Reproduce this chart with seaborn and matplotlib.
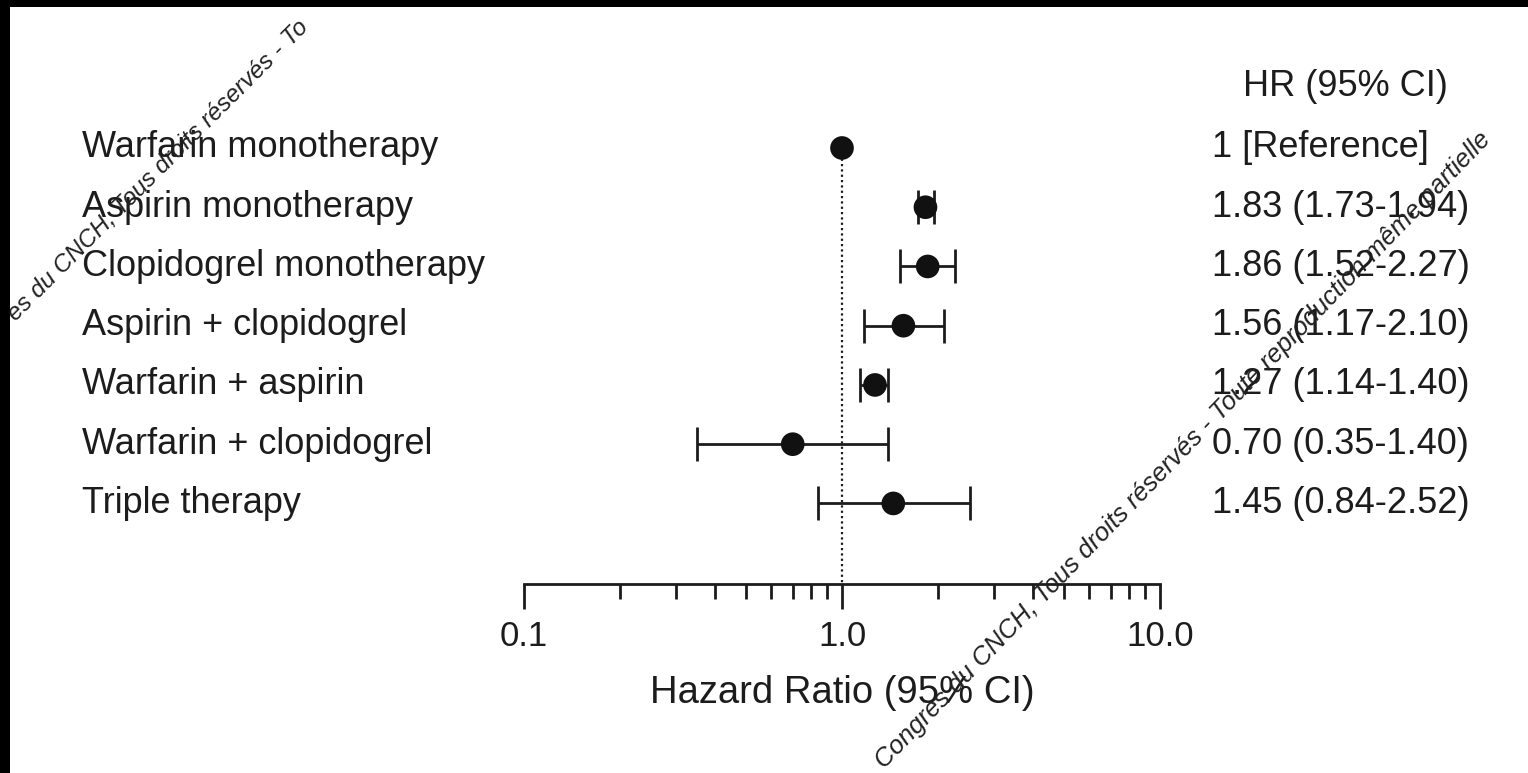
import matplotlib
matplotlib.use("Agg")
import matplotlib.pyplot as plt
import matplotlib.transforms as mtransforms
from matplotlib.patches import Rectangle
import seaborn as sns
import pandas as pd
import numpy as np

# ---- data ----
categories = ["Warfarin monotherapy", "Aspirin monotherapy", "Clopidogrel monotherapy",
              "Aspirin + clopidogrel", "Warfarin + aspirin", "Warfarin + clopidogrel",
              "Triple therapy"]
hr = [1.00, 1.83, 1.86, 1.56, 1.27, 0.70, 1.45]
ci_low = [None, 1.73, 1.52, 1.17, 1.14, 0.35, 0.84]
ci_high = [None, 1.94, 2.27, 2.10, 1.40, 1.40, 2.52]
hr_text = ["1 [Reference]", "1.83 (1.73-1.94)", "1.86 (1.52-2.27)", "1.56 (1.17-2.10)",
           "1.27 (1.14-1.40)", "0.70 (0.35-1.40)", "1.45 (0.84-2.52)"]
major_ticks = [0.1, 1.0, 10.0]
major_labels = ["0.1", "1.0", "10.0"]
minor_ticks = [0.2, 0.3, 0.4, 0.5, 0.6, 0.7, 0.8, 0.9, 2, 3, 4, 5, 6, 7, 8, 9]
header = "HR (95% CI)"
xlabel = "Hazard Ratio (95% CI)"
watermark_a = "es du CNCH, Tous droits réservés - To"
watermark_b = "Congrès du CNCH, Tous droits réservés - Toute reproduction même partielle"

df = pd.DataFrame({"cat": categories, "hr": hr, "lo": ci_low, "hi": ci_high,
                   "row": np.arange(len(categories))})

sns.set_theme(style="white")
plt.rcParams["font.family"] = ["Liberation Sans", "DejaVu Sans"]

W, H = 1528, 773
fig = plt.figure(figsize=(W / 100, H / 100), dpi=100, facecolor="black")
# white page area
fig.patches.append(Rectangle((10 / W, 0), 1 - 10 / W, 1 - 7 / H, transform=fig.transFigure,
                             facecolor="white", edgecolor="none", zorder=-10))

ax = fig.add_axes([524 / W, (H - 584) / H, 636 / W, 484 / H])
ax.set_facecolor("none")
ax.set_xscale("log")
ax.set_xlim(0.1, 10)
ax.set_ylim(7.36, -0.81)

ink = "#1c1c1c"

# reference line
ax.plot([1, 1], [0, 7.36], linestyle=(0, (1, 1.4)), color=ink, lw=1.6, zorder=1)

# CIs
ci = df.dropna()
ax.errorbar(ci["hr"], ci["row"], xerr=[ci["hr"] - ci["lo"], ci["hi"] - ci["hr"]],
            fmt="none", ecolor=ink, elinewidth=2.0, capsize=12.5, capthick=2.0, zorder=2)

sns.scatterplot(data=df, x="hr", y="row", ax=ax, s=290, color="#111111",
                edgecolor="none", zorder=3, legend=False)

ax.set_ylabel("")
ax.set_yticks([])
for s in ["left", "right", "top"]:
    ax.spines[s].set_visible(False)
ax.spines["bottom"].set_color(ink)
ax.spines["bottom"].set_linewidth(2.0)

ax.set_xticks(major_ticks)
ax.set_xticklabels(major_labels)
ax.set_xticks(minor_ticks, minor=True)
ax.xaxis.set_minor_formatter(matplotlib.ticker.NullFormatter())
ax.tick_params(axis="x", which="major", direction="out", length=18, width=2.0,
               color=ink, labelsize=25, labelcolor=ink, pad=8, bottom=True)
ax.tick_params(axis="x", which="minor", direction="out", length=11, width=2.0,
               color=ink, bottom=True)
ax.set_xlabel(xlabel, fontsize=27.5, color=ink, labelpad=16)

# left labels and right column
trans_l = mtransforms.blended_transform_factory(fig.transFigure, ax.transData)
for i, (c, t) in enumerate(zip(categories, hr_text)):
    fig.text(82 / W, i, c, transform=trans_l, ha="left", va="center",
             fontsize=26, color=ink)
    fig.text(1212 / W, i, t, transform=trans_l, ha="left", va="center",
             fontsize=26, color=ink)
fig.text(1243 / W, 1 - 86 / H, header, ha="left", va="center", fontsize=26, color=ink)

# watermark lines
fig.text(16 / W, 1 - 322 / H, watermark_a, rotation=45, rotation_mode="anchor",
         ha="left", va="baseline", fontsize=17.5, style="italic", color="#222222")
fig.text(884 / W, 1 - 770 / H, watermark_b, rotation=46, rotation_mode="anchor",
         ha="left", va="baseline", fontsize=18.5, style="italic", color="#222222")

fig.savefig("out.png", dpi=100, facecolor=fig.get_facecolor())
